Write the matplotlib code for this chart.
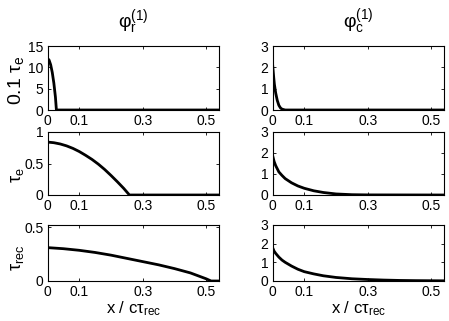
import matplotlib
matplotlib.use("Agg")
import matplotlib.pyplot as plt

plt.rcParams['font.family'] = ['Liberation Sans', 'DejaVu Sans']
plt.rcParams['mathtext.fontset'] = 'custom'
plt.rcParams['mathtext.rm'] = 'Liberation Sans'
plt.rcParams['mathtext.it'] = 'Liberation Sans'
plt.rcParams['mathtext.bf'] = 'Liberation Sans:bold'

# phi_r^(1), row 1 : 0.1 tau_e
x_r1 = [0, 0.005, 0.010, 0.015, 0.020, 0.025, 0.028, 0.54]
y_r1 = [12.1, 11.7, 10.6, 8.8, 6.3, 3.0, 0, 0]
# phi_c^(1), row 1
x_c1 = [0, 0.002, 0.004, 0.006, 0.010, 0.015, 0.020, 0.025, 0.030, 0.040, 0.54]
y_c1 = [2.2, 1.85, 1.5, 1.2, 0.8, 0.45, 0.22, 0.1, 0.04, 0.0, 0.0]
# phi_r^(1), row 2 : tau_e
x_r2 = [0, 0.02, 0.04, 0.06, 0.08, 0.10, 0.12, 0.14, 0.16, 0.18, 0.20, 0.22, 0.24, 0.258, 0.54]
y_r2 = [0.84, 0.83, 0.81, 0.78, 0.74, 0.69, 0.63, 0.565, 0.49, 0.405, 0.31, 0.21, 0.105, 0, 0]
# phi_c^(1), row 2
x_c2 = [0, 0.005, 0.01, 0.02, 0.03, 0.04, 0.06, 0.08, 0.10, 0.13, 0.16, 0.20, 0.25, 0.30, 0.54]
y_c2 = [1.9, 1.6, 1.4, 1.1, 0.93, 0.78, 0.58, 0.43, 0.32, 0.2, 0.12, 0.05, 0.015, 0.005, 0]
# phi_r^(1), row 3 : tau_rec
x_r3 = [0, 0.05, 0.1, 0.15, 0.2, 0.25, 0.3, 0.35, 0.4, 0.45, 0.5, 0.515, 0.54]
y_r3 = [0.31, 0.30, 0.285, 0.265, 0.24, 0.21, 0.18, 0.15, 0.115, 0.075, 0.02, 0, 0]
# phi_c^(1), row 3
x_c3 = [0, 0.005, 0.01, 0.02, 0.03, 0.04, 0.06, 0.08, 0.10, 0.13, 0.16, 0.20, 0.25, 0.30, 0.35, 0.40, 0.45, 0.54]
y_c3 = [1.8, 1.6, 1.48, 1.28, 1.12, 1.0, 0.8, 0.63, 0.5, 0.38, 0.28, 0.19, 0.12, 0.08, 0.05, 0.03, 0.02, 0.01]

xticks = [0, 0.1, 0.3, 0.5]
xticklabels = ['0', '0.1', '0.3', '0.5']

W, H = 449, 321
fig = plt.figure(figsize=(W / 100, H / 100), dpi=100)

# axes boxes in pixels: (left, top, right, bottom)
cols = [(47.5, 219), (272.5, 444)]
rows = [(46, 110), (132, 195), (225, 281)]

def make_ax(c, r):
    l, rr = cols[c]
    t, b = rows[r]
    return fig.add_axes([l / W, 1 - b / H, (rr - l) / W, (b - t) / H])

data = [
    [(x_r1, y_r1, (0, 15), [0, 5, 10, 15], ['0', '5', '10', '15']),
     (x_c1, y_c1, (0, 3), [0, 1, 2, 3], ['0', '1', '2', '3'])],
    [(x_r2, y_r2, (0, 1), [0, 0.5, 1], ['0', '0.5', '1']),
     (x_c2, y_c2, (0, 3), [0, 1, 2, 3], ['0', '1', '2', '3'])],
    [(x_r3, y_r3, (0, 0.52), [0, 0.5], ['0', '0.5']),
     (x_c3, y_c3, (0, 3), [0, 1, 2, 3], ['0', '1', '2', '3'])],
]

for r in range(3):
    for c in range(2):
        xs, ys, ylim, yt, ytl = data[r][c]
        ax = make_ax(c, r)
        ax.plot(xs, ys, color='black', lw=2.0, solid_capstyle='butt')
        ax.set_xlim(0, 0.54)
        ax.set_ylim(*ylim)
        ax.set_xticks(xticks)
        ax.set_xticklabels(xticklabels)
        ax.set_yticks(yt)
        ax.set_yticklabels(ytl)
        ax.tick_params(direction='in', length=2.5, width=0.6, top=True, right=True,
                       labelsize=10)
        ax.tick_params(axis='x', pad=3)
        ax.tick_params(axis='y', pad=3)
        for s in ax.spines.values():
            s.set_linewidth(0.8)
        if r == 2:
            ax.set_xlabel(r'x / c$\mathrm{τ}_\mathrm{rec}$', fontsize=12, labelpad=0)

fig.text(133 / W, 1 - 22 / H, r'$\mathrm{φ}_\mathrm{r}^{(1)}$', fontsize=14, ha='center', va='center')
fig.text(358 / W, 1 - 22 / H, r'$\mathrm{φ}_\mathrm{c}^{(1)}$', fontsize=14, ha='center', va='center')

fig.text(16 / W, 1 - 80 / H, r'0.1 $\mathrm{τ}_\mathrm{e}$', fontsize=14, rotation=90, ha='center', va='center')
fig.text(18 / W, 1 - 175 / H, r'$\mathrm{τ}_\mathrm{e}$', fontsize=13, rotation=90, ha='center', va='center')
fig.text(17 / W, 1 - 258 / H, r'$\mathrm{τ}_\mathrm{rec}$', fontsize=13, rotation=90, ha='center', va='center')

fig.savefig('out.png', dpi=100)
